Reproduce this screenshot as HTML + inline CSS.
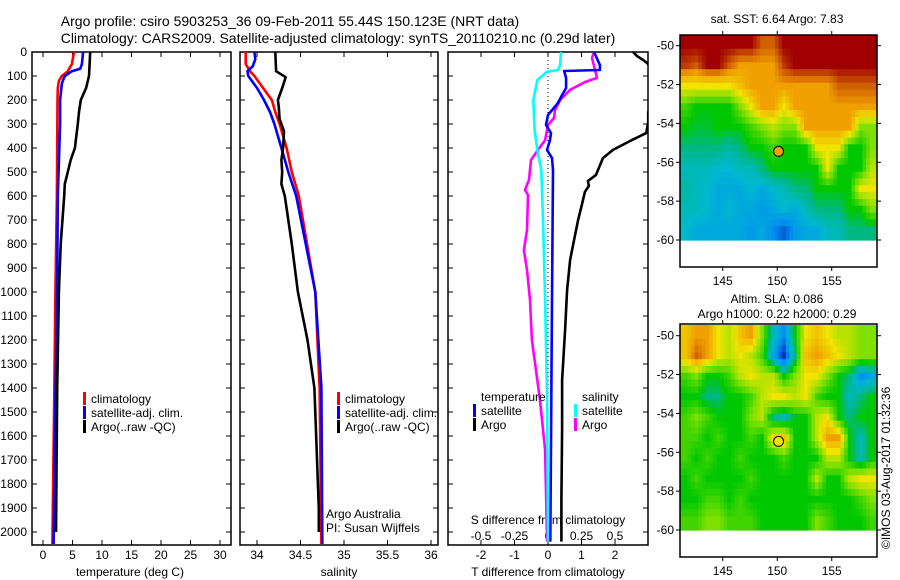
<!DOCTYPE html>
<html><head><meta charset="utf-8">
<style>
html,body{margin:0;padding:0;background:#fff;}
svg{display:block;font-family:"Liberation Sans",sans-serif;}
text{fill:#000;}
</style></head>
<body>
<svg id="chart" width="900" height="580" viewBox="0 0 900 580">
<defs>
<clipPath id="c1"><rect x="32" y="52" width="199" height="493"/></clipPath>
<clipPath id="c2"><rect x="240" y="52" width="198" height="493"/></clipPath>
<clipPath id="c3"><rect x="448" y="52" width="200" height="493"/></clipPath>
</defs>
<g id="root"></g>
</svg>
<script>
// ---------- profile data ----------
const tClimDepth = [0,50,80,100,120,150,200,400,600,1000,1450,2050];
const tClimVal   = [5.25,4.9,4.2,3.2,2.7,2.5,2.45,2.4,2.35,2.1,1.9,1.6];
const tSatDepth  = [0,50,70,80,100,130,200,300,600,1000,1450,2050];
const tSatVal    = [6.8,6.6,6.3,4.9,3.7,3.2,2.9,2.9,2.5,2.4,2.1,1.8];
const tArgoDepth = [0,100,150,200,250,300,400,450,500,550,600,800,1000,1400,2000];
const tArgoVal   = [8.0,7.8,7.3,6.4,6.1,5.9,5.4,4.7,4.2,3.7,3.6,3.0,2.7,2.4,2.2];

const sClimDepth = [0,50,80,100,150,180,200,250,300,350,400,500,600,1000,1400,2050];
const sClimVal   = [33.87,33.87,33.92,33.97,34.07,34.13,34.17,34.21,34.26,34.3,34.34,34.4,34.48,34.67,34.72,34.74];
const sSatDepth  = [0,30,60,80,100,150,200,250,300,400,500,600,1000,1400,2050];
const sSatVal    = [33.97,33.98,33.95,33.89,33.9,34.0,34.08,34.15,34.2,34.28,34.36,34.45,34.67,34.74,34.75];
const sArgoDepth = [0,80,105,150,200,230,280,330,400,450,500,550,600,800,1000,1200,1400,1900,2000];
const sArgoVal   = [34.21,34.22,34.33,34.29,34.24,34.25,34.26,34.31,34.3,34.28,34.29,34.28,34.32,34.4,34.47,34.58,34.66,34.71,34.71];

// differences from climatology
const dtArgoDepth = [0,17,33,50,67,200,250,292,338,367,408,442,513,538,558,583,638,700,783,867,992,1158,1367,1575,1867,2040];
const dtArgoVal   = [2.54,2.66,2.84,2.99,3.4,3.6,2.99,2.99,2.93,2.5,1.94,1.64,1.43,1.19,1.22,1.1,1.01,0.9,0.78,0.66,0.57,0.51,0.42,0.42,0.4,0.4];
const dtSatDepth  = [0,17,54,75,79,108,150,179,212,262,304,338,367,408,442,492,1033,2040];
const dtSatVal    = [1.37,1.43,1.55,1.55,0.48,0.54,0.54,0.42,0.3,0.0,-0.06,0.09,0.06,-0.03,0.12,0.15,0.12,0.07];
const dsSatDepth  = [0,54,75,83,117,200,325,408,492,700,1033,1450,2040];
const dsSatVal    = [0.097,0.09,0.075,-0.01,-0.08,-0.11,-0.1,-0.08,-0.05,-0.037,-0.022,-0.007,0.0];
const dsArgoDepth = [0,25,58,108,125,158,200,242,275,304,367,408,450,533,575,596,742,825,908,1033,1200,1450,1658,2040];
const dsArgoVal   = [0.343,0.328,0.343,0.366,0.276,0.164,0.09,0.052,0.045,0.0,-0.022,-0.075,-0.127,-0.142,-0.172,-0.149,-0.157,-0.18,-0.157,-0.134,-0.12,-0.06,-0.022,-0.007];

const depthTicks = [0,100,200,300,400,500,600,700,800,900,1000,1100,1200,1300,1400,1500,1600,1700,1800,1900,2000];
const tTicks = [0,5,10,15,20,25,30];
const sTicks = [34,34.5,35,35.5,36];
const sTickLabels = ["34","34.5","35","35.5","36"];
const dtTicks = [-2,-1,0,1,2];
const dsTicks = [-0.5,-0.25,0,0.25,0.5];
const dsTickLabels = ["-0.5","-0.25","0","0.25","0.5"];

// ---------- map data (rows top->bottom lat -49.45..-60, cols lon 141.1..159.1) ----------
const sstRow0 = [9,9,9,9,9,9,9,8.5,8.5,9,9,9,9,9,9,9,9,9];
const sstRow1 = [8.7,8.5,9,9,8.5,8,8,8,8,8.7,9,9,9,9,9,9,9,9];
const sstRow2 = [7,7,7,7,7,7.5,8,8,8,8,8,8,8,8,8.5,8.5,8.5,8.5];
const sstRow3 = [5.5,5,5,5,5,6,7,8,8,7,8,8,8,8,8,8,8,8];
const sstRow4 = [5,4.8,4.8,5,5,5,5.5,6,6.5,6,6,8,8,8,8,8,6,6];
const sstRow5 = [4.5,4.5,4.5,4.5,4.2,4.5,5,5,5.5,5,5,5,7,7,7,5,5,6];
const sstRow6 = [4,4,4,3.8,3.8,4,4,4.5,5,5,5,5,5,7,5,5,5,6.5];
const sstRow7 = [4.2,4,3.8,3.5,3.5,3.5,3.8,3.5,3.8,4,4.5,4.5,5,5,5,5,7,7];
const sstRow8 = [4,4,3.8,3.5,3.8,3.5,3.5,3.2,3.5,3.8,3.5,4,4.5,4.5,4.5,5,5,6];
const sstRow9 = [3.8,3.5,3.5,3.5,3.5,3.5,3.2,3.5,3,2.5,3.2,3.5,3.5,4,4,4.5,4.5,4.5];
const slaRow0 = [7.5,8,8,7,6.5,7.5,8,6,4,3,5,7,7.5,7,6.5,6.5,6,6];
const slaRow1 = [7.5,8.5,8,7,6.5,7,6.5,5.5,3.5,2,4.5,7.5,8,7.5,7,6.5,6,6];
const slaRow2 = [5.5,6,5,5,5.5,6.5,7,6.5,6.5,5,6,7,7,6,5,4.5,3,3.5];
const slaRow3 = [5,5,4.5,4.5,5,5,5.5,6.5,7,7,6.5,7,5.5,5,5,4,4.5,5];
const slaRow4 = [5.5,6,5.5,5,5,5,6,6.5,4.5,4,5,5,6.5,7,5,4.5,5,5];
const slaRow5 = [5.5,5.5,5,5.5,5,5,5.5,5,7,7.5,5,5,6.5,8,8,5,4,5];
const slaRow6 = [5.5,5,5.5,5,5,5.5,5,5,5,5.5,5,5,5,6.5,6.5,5,4,5];
const slaRow7 = [5,5.5,5,5,5,5,5.5,5,5,5,5,5,6.5,5,5,6.5,7,7];
const slaRow8 = [5,5,5.5,5.5,5,5.5,5,5,5,5,5,5,5,5,5,5,5.5,6];
const slaRow9 = [5.5,5.5,6,6,5.5,5.5,5.5,5,5,5,5,5,6,5.5,5,5,5,5.5];
const sstGrid = [sstRow0,sstRow1,sstRow2,sstRow3,sstRow4,sstRow5,sstRow6,sstRow7,sstRow8,sstRow9];
const slaGrid = [slaRow0,slaRow1,slaRow2,slaRow3,slaRow4,slaRow5,slaRow6,slaRow7,slaRow8,slaRow9];
const latTicks = [-50,-52,-54,-56,-58,-60];
const lonTicks = [145,150,155];
const argoLon = [150.12];
const argoLat = [-55.44];

const NS = "http://www.w3.org/2000/svg";
const root = document.getElementById('root');
function mk(tag, attrs, parent, txt){
  const e = document.createElementNS(NS, tag);
  for (const k in attrs) e.setAttribute(k, attrs[k]);
  if (txt !== undefined) e.textContent = txt;
  (parent||root).appendChild(e);
  return e;
}
const yD = d => 52 + 0.24*d;
const xT = t => 43 + 5.9*t;
const xS = s => 257 + 87*(s-34);
const xDT = t => 548 + 33.5*t;
const xDS = s => 548 + 134*s;
const xLon = lo => 680 + (lo-141.08)*10.9;
const yLat1 = la => 45.7 + (-50-la)*19.43;
const yLat2 = la => 335.7 + (-50-la)*19.43;

let t;
t = mk('text',{x:290,y:26,'font-size':14,'text-anchor':'middle'},root,'Argo profile: csiro 5903253_36 09-Feb-2011 55.44S 150.123E (NRT data)');
 
t = mk('text',{x:338,y:43,'font-size':14,'text-anchor':'middle'},root,'Climatology: CARS2009. Satellite-adjusted climatology: synTS_20110210.nc (0.29d later)');
 

function panel(x0,w,name){
  const g = mk('g',{});
  
  
  const r = mk('rect',{x:x0,y:52,width:w,height:493,fill:'none',stroke:'#000','stroke-width':1.5},g);
  
  
  depthTicks.forEach(d=>{
    mk('line',{x1:x0,x2:x0+5,y1:yD(d),y2:yD(d),stroke:'#000'},g);
    mk('line',{x1:x0+w-5,x2:x0+w,y1:yD(d),y2:yD(d),stroke:'#000'},g);
  });
  return g;
}
function line(g, xs, ys, fx, color, clip, name){
  const pts = xs.map((v,i)=>fx(v).toFixed(1)+','+yD(ys[i]).toFixed(1)).join(' ');
  const p = mk('polyline',{points:pts,fill:'none',stroke:color,'stroke-width':2.6,'clip-path':'url(#'+clip+')','stroke-linejoin':'round'},g);
  
  
}
function legend(g,x,y,color,label,name){
  const r = mk('rect',{x:x,y:y-11,width:3,height:13,fill:color},g);
  
  
  const tx = mk('text',{x:x+8,y:y,'font-size':12},g,label);
  
  
}

// Panel 1
const g1 = panel(32,199,'temperature-panel');
depthTicks.forEach(d=>{
  const tx = mk('text',{x:27,y:yD(d)+4,'font-size':12,'text-anchor':'end'},g1,String(d));
  
  
});
tTicks.forEach(v=>{
  mk('line',{x1:xT(v),x2:xT(v),y1:545,y2:540,stroke:'#000'},g1);
  mk('line',{x1:xT(v),x2:xT(v),y1:52,y2:57,stroke:'#000'},g1);
  const tx = mk('text',{x:xT(v),y:559,'font-size':12,'text-anchor':'middle'},g1,String(v));
  
  
});
t = mk('text',{x:130,y:576,'font-size':12,'text-anchor':'middle'},g1,'temperature (deg C)');
 
line(g1,tClimVal,tClimDepth,xT,'#ff0000','c1','temperature-climatology-line');
line(g1,tSatVal,tSatDepth,xT,'#0000ff','c1','temperature-satellite-line');
line(g1,tArgoVal,tArgoDepth,xT,'#000000','c1','temperature-argo-line');
legend(g1,83,403,'#ff0000','climatology','legend-climatology');
legend(g1,83,417,'#0000ff','satellite-adj. clim.','legend-satellite-adj');
legend(g1,83,431,'#000000','Argo(..raw -QC)','legend-argo');

// Panel 2
const g2 = panel(240,198,'salinity-panel');
sTicks.forEach((v,i)=>{
  mk('line',{x1:xS(v),x2:xS(v),y1:545,y2:540,stroke:'#000'},g2);
  mk('line',{x1:xS(v),x2:xS(v),y1:52,y2:57,stroke:'#000'},g2);
  const tx = mk('text',{x:xS(v),y:559,'font-size':12,'text-anchor':'middle'},g2,sTickLabels[i]);
  
  
});
t = mk('text',{x:339,y:576,'font-size':12,'text-anchor':'middle'},g2,'salinity');
 
line(g2,sClimVal,sClimDepth,xS,'#ff0000','c2','salinity-climatology-line');
line(g2,sSatVal,sSatDepth,xS,'#0000ff','c2','salinity-satellite-line');
line(g2,sArgoVal,sArgoDepth,xS,'#000000','c2','salinity-argo-line');
legend(g2,337,403,'#ff0000','climatology','legend-climatology-2');
legend(g2,337,417,'#0000ff','satellite-adj. clim.','legend-satellite-adj-2');
legend(g2,337,431,'#000000','Argo(..raw -QC)','legend-argo-2');
t = mk('text',{x:326,y:518,'font-size':12},g2,'Argo Australia');
 
t = mk('text',{x:326,y:532,'font-size':12},g2,'PI: Susan Wijffels');
 

// Panel 3
const g3 = panel(448,200,'difference-panel');
dtTicks.forEach(v=>{
  mk('line',{x1:xDT(v),x2:xDT(v),y1:545,y2:540,stroke:'#000'},g3);
  mk('line',{x1:xDT(v),x2:xDT(v),y1:52,y2:57,stroke:'#000'},g3);
  const tx = mk('text',{x:xDT(v),y:559,'font-size':12,'text-anchor':'middle'},g3,String(v));
  
  
});
dsTicks.forEach((v,i)=>{
  const tx = mk('text',{x:xDS(v),y:540,'font-size':12,'text-anchor':'middle'},g3,dsTickLabels[i]);
  
  
});
mk('line',{x1:xDT(0),x2:xDT(0),y1:52,y2:545,stroke:'#000','stroke-dasharray':'1,3'},g3);
t = mk('text',{x:548,y:524,'font-size':12,'text-anchor':'middle'},g3,'S difference from climatology');
 
t = mk('text',{x:548,y:576,'font-size':12,'text-anchor':'middle'},g3,'T difference from climatology');
 
line(g3,dtArgoVal,dtArgoDepth,xDT,'#000000','c3','t-diff-argo-line');
line(g3,dsArgoVal,dsArgoDepth,xDS,'#ff00ff','c3','s-diff-argo-line');
line(g3,dsSatVal,dsSatDepth,xDS,'#00ffff','c3','s-diff-satellite-line');
line(g3,dtSatVal,dtSatDepth,xDT,'#0000ff','c3','t-diff-satellite-line');
t = mk('text',{x:481,y:401,'font-size':12},g3,'temperature');
 
t = mk('text',{x:582,y:401,'font-size':12},g3,'salinity');
 
legend(g3,473,415,'#0000ff','satellite','legend-t-satellite');
legend(g3,473,429,'#000000','Argo','legend-t-argo');
legend(g3,574,415,'#00ffff','satellite','legend-s-satellite');
legend(g3,574,429,'#ff00ff','Argo','legend-s-argo');

// ---------- maps ----------
const cmStops = [[2,[0,48,192]],[3,[0,144,240]],[3.8,[0,184,208]],[4.5,[0,184,128]],[5,[0,200,0]],[6,[128,224,0]],[7,[240,228,0]],[8,[240,160,0]],[8.5,[208,96,0]],[9,[160,0,0]]];
function cmap(v){
  if (v<=cmStops[0][0]) return 'rgb('+cmStops[0][1]+')';
  for (let i=1;i<cmStops.length;i++){
    if (v<=cmStops[i][0]){
      const a=cmStops[i-1], b=cmStops[i], f=(v-a[0])/(b[0]-a[0]);
      const c=a[1].map((x,k)=>Math.round(x+(b[1][k]-x)*f));
      return 'rgb('+c.join(',')+')';
    }
  }
  return 'rgb('+cmStops[cmStops.length-1][1]+')';
}
// bilinear sample of grid at fractional cell-centre coordinates
function sample(grid, r, c){
  const nr=grid.length, nc=grid[0].length;
  r=Math.max(0,Math.min(nr-1,r)); c=Math.max(0,Math.min(nc-1,c));
  const r0=Math.floor(r), c0=Math.floor(c), r1=Math.min(nr-1,r0+1), c1=Math.min(nc-1,c0+1);
  const fr=r-r0, fc=c-c0;
  return grid[r0][c0]*(1-fr)*(1-fc)+grid[r0][c1]*(1-fr)*fc+grid[r1][c0]*fr*(1-fc)+grid[r1][c1]*fr*fc;
}
function drawMap(grid, yLat, top, bottom, name, dotColor, titles){
  const g = mk('g',{});
  
  
  const latTop=-49.45, latBot=-60, lonL=141.08, lonR=159.15;
  const nr=grid.length, nc=grid[0].length, SUB=3;
  const dLat=(latTop-latBot)/(nr*SUB), dLon=(lonR-lonL)/(nc*SUB);
  for (let i=0;i<nr*SUB;i++){
    for (let j=0;j<nc*SUB;j++){
      const v = sample(grid,(i+0.5)/SUB-0.5,(j+0.5)/SUB-0.5);
      const x1=xLon(lonL+j*dLon), x2=xLon(lonL+(j+1)*dLon);
      const y1=yLat(latTop-i*dLat), y2=yLat(latTop-(i+1)*dLat);
      const c = mk('rect',{x:x1.toFixed(1),y:y1.toFixed(1),width:(x2-x1+0.6).toFixed(1),height:(y2-y1+0.6).toFixed(1),fill:cmap(v)},g);
      
      
    }
  }
  const fr = mk('rect',{x:680,y:top,width:197,height:bottom-top,fill:'none',stroke:'#000','stroke-width':1.5},g);
  
  
  latTicks.forEach(la=>{
    const y=yLat(la);
    mk('line',{x1:676,x2:680,y1:y,y2:y,stroke:'#000'},g);
    mk('line',{x1:877,x2:881,y1:y,y2:y,stroke:'#000'},g);
    const tx = mk('text',{x:674,y:y+4,'font-size':12,'text-anchor':'end'},g,String(la));
    
    
  });
  lonTicks.forEach(lo=>{
    const x=xLon(lo);
    mk('line',{x1:x,x2:x,y1:top-4,y2:top,stroke:'#000'},g);
    mk('line',{x1:x,x2:x,y1:bottom,y2:bottom+4,stroke:'#000'},g);
    const tx = mk('text',{x:x,y:bottom+18,'font-size':12,'text-anchor':'middle'},g,String(lo));
    
    
  });
  const dot = mk('circle',{cx:xLon(argoLon[0]),cy:yLat(argoLat[0]),r:5,fill:dotColor,stroke:'#000','stroke-width':1},g);
  
  
  titles.forEach(tt=>{
    const tx = mk('text',{x:777,y:tt[1],'font-size':12,'text-anchor':'middle'},g,tt[0]);
    
    
  });
}
drawMap(sstGrid, yLat1, 35, 267, 'sst-map', '#f0a000', [['sat. SST: 6.64 Argo: 7.83',23]]);
drawMap(slaGrid, yLat2, 324, 557, 'sla-map', '#f0e000', [['Altim. SLA: 0.086',303],['Argo h1000: 0.22 h2000: 0.29',318]]);

t = mk('text',{x:0,y:0,'font-size':12,transform:'translate(890,549) rotate(-90)'},root,'©IMOS 03-Aug-2017 01:32:36');
 
</script>
</body></html>
